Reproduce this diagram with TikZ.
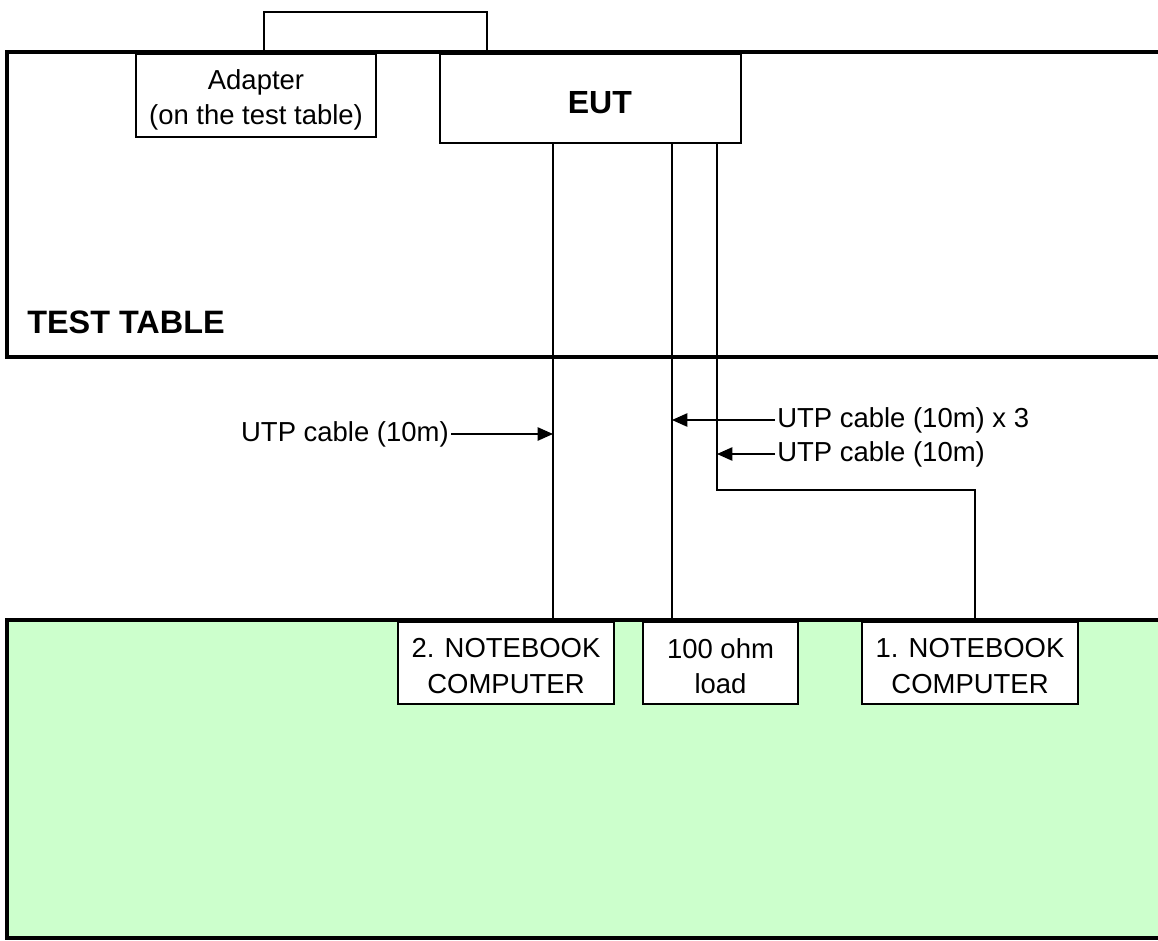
\documentclass[tikz,border=0pt]{standalone}
\usepackage{fontspec}
\setmainfont{Liberation Sans}
\usetikzlibrary{arrows.meta,calc}
\definecolor{lgreen}{HTML}{CCFFCC}
\begin{document}
\begin{tikzpicture}[x=0.75pt,y=-0.75pt,
  thin line/.style={line width=1.1pt},
  thick border/.style={line width=2.6pt},
  box/.style={draw,thin line,fill=white,inner sep=0pt},
  txt/.style={align=center,inner sep=0pt,font=\fontsize{20.6}{26.3}\selectfont},
  lbl/.style={inner sep=1.5pt,font=\fontsize{20.6}{26}\selectfont},
  arr/.style={thin line,-{Triangle[length=11.5pt,width=10pt]}}]
\useasboundingbox (0,0) rectangle (1158,940);
\fill[white] (0,0) rectangle (1158,940);
% test table
\draw[thick border] (7,357) -- (7,52) -- (1170,52) -- (1170,357) -- cycle;
% green area
\draw[thick border,fill=lgreen] (7,938) -- (7,620) -- (1170,620) -- (1170,938) -- cycle;
% plug above
\draw[thin line] (264,52) |- (487,12) -- (487,52);
% boxes on table
\node[box,minimum width=180pt,minimum height=62.25pt,
  label={[txt,yshift=-3.5pt]center:Adapter\\(on the test table)}] (adapter) at (256,95.5) {};
\node[box,minimum width=225.75pt,minimum height=66.75pt,
  label={[txt,font=\bfseries\fontsize{24}{28}\selectfont,xshift=7pt,yshift=-3pt]center:EUT}] (eut) at (590.5,98.5) {};
\node[anchor=west,inner sep=0pt,font=\bfseries\fontsize{24.3}{28}\selectfont] (tt) at (27,322) {TEST TABLE};
% ground boxes
\node[box,minimum width=162pt,minimum height=61.5pt,
  label={[txt,yshift=-2.3pt]center:2. NOTEBOOK\\COMPUTER}] (nb2) at (506,663) {};
\node[box,minimum width=116.25pt,minimum height=61.5pt,
  label={[txt,yshift=-2.3pt]center:100 ohm\\load}] (load) at (720.5,663) {};
\node[box,minimum width=162pt,minimum height=61.5pt,
  label={[txt,yshift=-2.3pt]center:1. NOTEBOOK\\COMPUTER}] (nb1) at (970,663) {};
% cable points
\coordinate (p1) at (553,143);
\coordinate (p2) at (672,143);
\coordinate (p3) at (717,143);
\coordinate (bend) at (717,490);
\draw[thin line] (p1) -- (p1 |- nb2.north);
\draw[thin line] (p2) -- (p2 |- load.north);
\draw[thin line] (p3) -- (bend) -| (nb1.north -| 975,0);
% labels
\node[lbl,anchor=east] (l1) at (451,434) {UTP cable (10m)};
\node[lbl,anchor=west] (l2) at (775,420) {UTP cable (10m) x 3};
\node[lbl,anchor=west] (l3) at (775,454) {UTP cable (10m)};
\draw[arr] (l1.east) -- (l1.east -| p1);
\draw[arr] (l2.west) -- (l2.west -| p2);
\draw[arr] (l3.west) -- (l3.west -| p3);
\end{tikzpicture}
\end{document}
